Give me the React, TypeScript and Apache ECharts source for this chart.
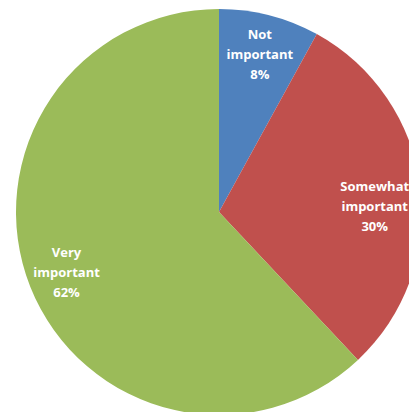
import React, { useEffect, useRef } from "react";
import * as echarts from "echarts";

const categories = ["Not important", "Somewhat important", "Very important"];
const values = [8, 30, 62];
const colors = ["#4F81BD", "#C0504D", "#9BBB59"];

export default function App() {
  const ref = useRef<HTMLDivElement>(null);
  useEffect(() => {
    if (!ref.current) return;
    const chart = echarts.init(ref.current, undefined, { renderer: "svg" });
    const fmt = (p: any) => p.name.replace(" ", "\n") + "\n" + p.value + "%";
    chart.setOption({
      animation: false,
      backgroundColor: "#ffffff",
      series: [
        {
          type: "pie",
          center: [219, 212],
          radius: [0, 203],
          startAngle: 90,
          clockwise: true,
          silent: true,
          label: { show: false },
          labelLine: { show: false },
          itemStyle: { borderWidth: 0 },
          data: categories.map((c, i) => ({
            name: c,
            value: values[i],
            itemStyle: { color: colors[i] },
          })),
        },
        {
          type: "pie",
          center: [219, 212],
          radius: [119, 203],
          startAngle: 90,
          clockwise: true,
          silent: true,
          itemStyle: { color: "transparent", borderWidth: 0 },
          label: {
            show: true,
            position: "inside",
            formatter: fmt,
            color: "#ffffff",
            fontFamily: "Open Sans",
            fontWeight: "bold",
            fontSize: 13,
            lineHeight: 20,
          },
          labelLine: { show: false },
          data: categories.map((c, i) => ({
            name: c,
            value: values[i],
            label: i === 1 ? { offset: [-7, 15] } : i === 0 ? { offset: [0, 1] } : {},
          })),
        },
      ],
    });
    return () => chart.dispose();
  }, []);
  return (
    <div
      ref={ref}
      style={{ position: "fixed", left: 0, top: 0, width: 409, height: 412 }}
    />
  );
}
